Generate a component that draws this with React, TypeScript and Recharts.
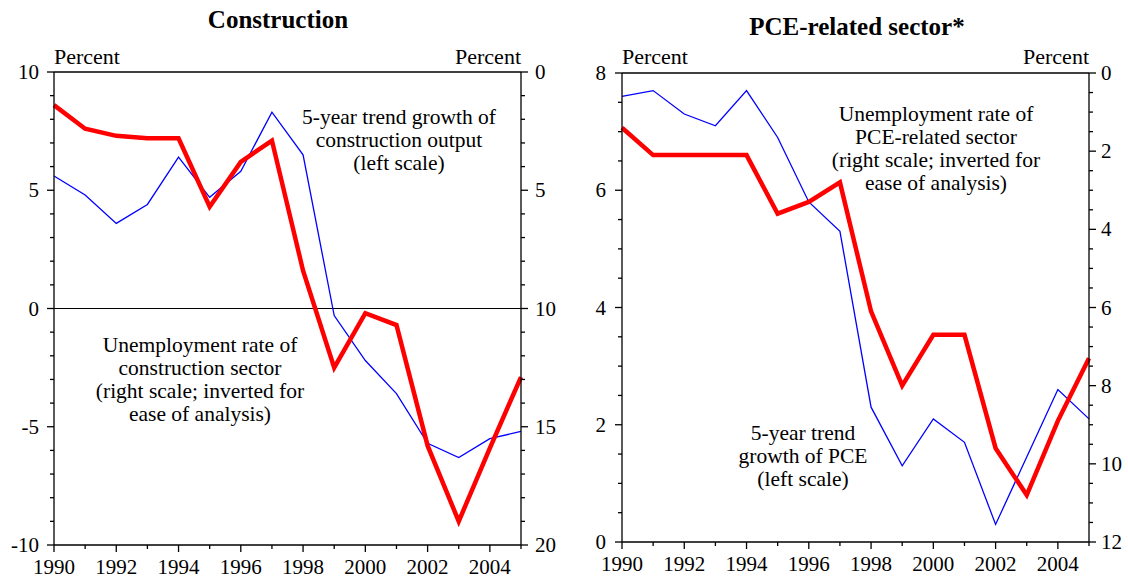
import React from 'react';
import { LineChart, Line, XAxis, YAxis, ReferenceLine } from 'recharts';

const years = [1990, 1991, 1992, 1993, 1994, 1995, 1996, 1997, 1998, 1999, 2000, 2001, 2002, 2003, 2004, 2005];

// left panel: construction
const constructionOutput = [5.6, 4.8, 3.6, 4.4, 6.4, 4.7, 5.8, 8.3, 6.5, -0.3, -2.2, -3.6, -5.7, -6.3, -5.5, -5.2];
const constructionUnemp = [1.4, 2.4, 2.7, 2.8, 2.8, 5.7, 3.8, 2.9, 8.4, 12.5, 10.2, 10.7, 15.8, 19.0, 15.9, 12.9];

// right panel: PCE-related sector
const pceGrowth = [7.6, 7.7, 7.3, 7.1, 7.7, 6.9, 5.8, 5.3, 2.3, 1.3, 2.1, 1.7, 0.3, 1.45, 2.6, 2.1];
const pceUnemp = [1.4, 2.1, 2.1, 2.1, 2.1, 3.6, 3.3, 2.8, 6.1, 8.0, 6.7, 6.7, 9.6, 10.8, 8.9, 7.3];

const constructionLeftTicks = [-10, -9, -8, -7, -6, -5, -4, -3, -2, -1, 0, 1, 2, 3, 4, 5, 6, 7, 8, 9, 10];
const constructionRightTicks = [0, 1, 2, 3, 4, 5, 6, 7, 8, 9, 10, 11, 12, 13, 14, 15, 16, 17, 18, 19, 20];
const pceLeftTicks = [0, 0.5, 1, 1.5, 2, 2.5, 3, 3.5, 4, 4.5, 5, 5.5, 6, 6.5, 7, 7.5, 8];
const pceRightTicks = [0, 0.5, 1, 1.5, 2, 2.5, 3, 3.5, 4, 4.5, 5, 5.5, 6, 6.5, 7, 7.5, 8, 8.5, 9, 9.5, 10, 10.5, 11, 11.5, 12];

const constructionData = years.map((year, i) => ({
  year,
  output: constructionOutput[i],
  unemp: constructionUnemp[i],
}));

const pceData = years.map((year, i) => ({
  year,
  growth: pceGrowth[i],
  unemp: pceUnemp[i],
}));

const FONT = '"Liberation Serif", "Times New Roman", serif';
const TICK_FONT = 21;
const isMajor = (v: number, step: number) => Math.abs(v / step - Math.round(v / step)) < 1e-6;

const xTick = (props: any) => {
  const { x, y, payload } = props;
  const v = payload.value;
  const major = isMajor(v, 2);
  return (
    <g>
      <line x1={x} y1={y} x2={x} y2={y + (major ? 7 : 4)} stroke="#000" strokeWidth={1.3} />
      {major && (
        <text x={x} y={y + 29} textAnchor="middle" fontFamily={FONT} fontSize={TICK_FONT} fill="#000">
          {v}
        </text>
      )}
    </g>
  );
};

const leftTick = (step: number, gap: number) => (props: any) => {
  const { x, y, payload } = props;
  const v = payload.value;
  const major = isMajor(v, step);
  return (
    <g>
      <line x1={x - (major ? 7 : 4)} y1={y} x2={x} y2={y} stroke="#000" strokeWidth={1.3} />
      {major && (
        <text x={x - gap} y={y + 7} textAnchor="end" fontFamily={FONT} fontSize={TICK_FONT} fill="#000">
          {v}
        </text>
      )}
    </g>
  );
};

const rightTick = (step: number, gap: number) => (props: any) => {
  const { x, y, payload } = props;
  const v = payload.value;
  const major = isMajor(v, step);
  return (
    <g>
      <line x1={x} y1={y} x2={x + (major ? 7 : 4)} y2={y} stroke="#000" strokeWidth={1.3} />
      {major && (
        <text x={x + gap} y={y + 7} textAnchor="start" fontFamily={FONT} fontSize={TICK_FONT} fill="#000">
          {v}
        </text>
      )}
    </g>
  );
};

const axisLine = { stroke: '#000', strokeWidth: 1.3 };

const Lines = ({ x, y, lines }: { x: number; y: number; lines: string[] }) => (
  <text x={x} y={y} textAnchor="middle" fontFamily={FONT} fontSize={21.5} fill="#000">
    {lines.map((l, i) => (
      <tspan key={i} x={x} dy={i === 0 ? 0 : 23}>
        {l}
      </tspan>
    ))}
  </text>
);

export default function App() {
  return (
    <div style={{ position: 'absolute', left: 0, top: 0, width: 1128, height: 576, background: '#fff', overflow: 'hidden' }}>
      <div style={{ position: 'absolute', left: 0, top: 0 }}>
        <LineChart width={570} height={576} data={constructionData} margin={{ top: 72, right: 0, bottom: 0, left: 0 }}>
          <XAxis
            dataKey="year"
            type="number"
            domain={[1990, 2005]}
            ticks={years}
            interval={0}
            height={31}
            tickSize={0}
            tickMargin={0}
            tickLine={false}
            axisLine={axisLine}
            tick={xTick}
          />
          <YAxis
            yAxisId="left"
            type="number"
            domain={[-10, 10]}
            ticks={constructionLeftTicks}
            interval={0}
            width={54}
            tickSize={0}
            tickMargin={0}
            tickLine={false}
            axisLine={axisLine}
            tick={leftTick(5, 15)}
          />
          <YAxis
            yAxisId="right"
            orientation="right"
            type="number"
            domain={[0, 20]}
            reversed
            ticks={constructionRightTicks}
            interval={0}
            width={49}
            tickSize={0}
            tickMargin={0}
            tickLine={false}
            axisLine={axisLine}
            tick={rightTick(5, 14)}
          />
          <ReferenceLine yAxisId="left" y={10} stroke="#000" strokeWidth={1.3} />
          <ReferenceLine yAxisId="left" y={0} stroke="#000" strokeWidth={1} />
          <Line yAxisId="left" dataKey="output" stroke="#0000ff" strokeWidth={1.3} dot={false} isAnimationActive={false} />
          <Line yAxisId="right" dataKey="unemp" stroke="#ff0000" strokeWidth={4.5} dot={false} isAnimationActive={false} />
        </LineChart>
      </div>
      <div style={{ position: 'absolute', left: 570, top: 0 }}>
        <LineChart width={558} height={576} data={pceData} margin={{ top: 73, right: 0, bottom: 0, left: 0 }}>
          <XAxis
            dataKey="year"
            type="number"
            domain={[1990, 2005]}
            ticks={years}
            interval={0}
            height={34}
            tickSize={0}
            tickMargin={0}
            tickLine={false}
            axisLine={axisLine}
            tick={xTick}
          />
          <YAxis
            yAxisId="left"
            type="number"
            domain={[0, 8]}
            ticks={pceLeftTicks}
            interval={0}
            width={52}
            tickSize={0}
            tickMargin={0}
            tickLine={false}
            axisLine={axisLine}
            tick={leftTick(2, 16)}
          />
          <YAxis
            yAxisId="right"
            orientation="right"
            type="number"
            domain={[0, 12]}
            reversed
            ticks={pceRightTicks}
            interval={0}
            width={39}
            tickSize={0}
            tickMargin={0}
            tickLine={false}
            axisLine={axisLine}
            tick={rightTick(2, 12)}
          />
          <ReferenceLine yAxisId="left" y={8} stroke="#000" strokeWidth={1.3} />
          <Line yAxisId="left" dataKey="growth" stroke="#0000ff" strokeWidth={1.3} dot={false} isAnimationActive={false} />
          <Line yAxisId="right" dataKey="unemp" stroke="#ff0000" strokeWidth={4.5} dot={false} isAnimationActive={false} />
        </LineChart>
      </div>
      <svg width={1128} height={576} style={{ position: 'absolute', left: 0, top: 0, pointerEvents: 'none' }}>
        <text x={278} y={28} textAnchor="middle" fontFamily={FONT} fontSize={25} fontWeight="bold">Construction</text>
        <text x={857} y={35} textAnchor="middle" fontFamily={FONT} fontSize={25} fontWeight="bold">PCE-related sector*</text>
        <text x={54} y={64} fontFamily={FONT} fontSize={22}>Percent</text>
        <text x={521} y={64} textAnchor="end" fontFamily={FONT} fontSize={22}>Percent</text>
        <text x={622} y={64} fontFamily={FONT} fontSize={22}>Percent</text>
        <text x={1089} y={64} textAnchor="end" fontFamily={FONT} fontSize={22}>Percent</text>
        <Lines x={399} y={124} lines={['5-year trend growth of', 'construction output', '(left scale)']} />
        <Lines x={200} y={352} lines={['Unemployment rate of', 'construction sector', '(right scale; inverted for', 'ease of analysis)']} />
        <Lines x={936} y={121} lines={['Unemployment rate of', 'PCE-related sector', '(right scale; inverted for', 'ease of analysis)']} />
        <Lines x={803} y={440} lines={['5-year trend', 'growth of PCE', '(left scale)']} />
      </svg>
    </div>
  );
}
